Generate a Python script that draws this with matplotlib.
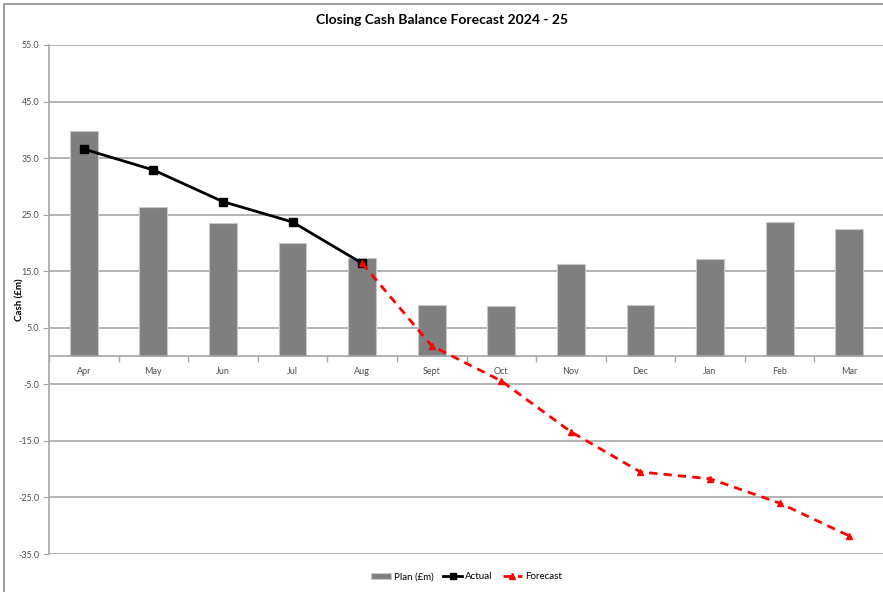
import matplotlib
matplotlib.use("Agg")
import matplotlib.pyplot as plt
from matplotlib.patches import Rectangle
import numpy as np

months = ["Apr", "May", "Jun", "Jul", "Aug", "Sept", "Oct", "Nov", "Dec", "Jan", "Feb", "Mar"]
plan = [39.8, 26.3, 23.5, 20.0, 17.3, 9.0, 8.8, 16.3, 9.0, 17.1, 23.7, 22.5]
actual = [36.6, 32.9, 27.3, 23.7, 16.4]
forecast_months = ["Aug", "Sept", "Oct", "Nov", "Dec", "Jan", "Feb", "Mar"]
forecast = [16.4, 1.8, -4.4, -13.4, -20.5, -21.7, -26.0, -31.8]
y_ticks = [-35, -25, -15, -5, 5, 15, 25, 35, 45, 55]

plt.rcParams["font.family"] = ["Lato", "DejaVu Sans"]

fig = plt.figure(figsize=(8.83, 5.92), dpi=100)
fig.patches.append(Rectangle((4 / 883, -0.05), 1.0, 1 - 4 / 592 + 0.05,
                             transform=fig.transFigure, fill=False,
                             edgecolor="#8c8c8c", lw=1.2))

ax = fig.add_axes([49 / 883, 38 / 592, 835 / 883, 509 / 592])
x = np.arange(len(months))
idx = {m: i for i, m in enumerate(months)}

h_plan = ax.bar(x, plan, width=0.4, color="#7f7f7f", edgecolor="#c8c8c8", lw=0.8,
                label="Plan (£m)", zorder=2)
h_act, = ax.plot(x[:len(actual)], actual, color="black", lw=2, marker="s", ms=6,
                 label="Actual", zorder=4)
h_fc, = ax.plot([idx[m] for m in forecast_months], forecast, color="#ff0000", lw=2,
                ls=(0, (3, 2.2)), marker="^", ms=5, label="Forecast", zorder=5)

ax.set_xlim(-0.5, len(months) - 0.5)
ax.set_ylim(-35, 55)
ax.set_yticks(y_ticks)
ax.set_yticklabels([f"{v:.1f}" for v in y_ticks], fontsize=6.5, color="#505050")
ax.yaxis.grid(True, color="#a6a6a6", lw=1.2, zorder=0)
ax.set_axisbelow(True)
ax.tick_params(axis="y", length=4, color="#a6a6a6", pad=3)

for s in ["top", "right"]:
    ax.spines[s].set_visible(False)
ax.spines["left"].set_color("#a6a6a6")
ax.spines["left"].set_linewidth(1.2)
ax.spines["bottom"].set_position(("data", 0))
ax.spines["bottom"].set_color("#a6a6a6")
ax.spines["bottom"].set_linewidth(1.2)
ax.spines["bottom"].set_zorder(3)

ax.set_xticks(x)
ax.set_xticklabels(months, fontsize=6.5, color="#505050")
ax.set_xticks(np.arange(len(months) + 1) - 0.5, minor=True)
ax.tick_params(axis="x", which="major", length=0, pad=8)
ax.tick_params(axis="x", which="minor", length=4, color="#a6a6a6", width=1)

fig.text(20 / 883, 1 - 300 / 592, "Cash (£m)", rotation=90, ha="center", va="center",
         fontsize=7, fontweight="bold")
fig.text(0.5, 1 - 20 / 592, "Closing Cash Balance Forecast 2024 - 25",
         ha="center", va="center", fontsize=10, fontweight="bold")

ax.legend([h_plan, h_act, h_fc], ["Plan (£m)", "Actual", "Forecast"],
          loc="center", bbox_to_anchor=(0.5, -0.045), ncol=3, frameon=False,
          fontsize=7, handlelength=2.0, columnspacing=1.0, handletextpad=0.3,
          markerscale=0.8)

fig.savefig("out.png", dpi=100)
